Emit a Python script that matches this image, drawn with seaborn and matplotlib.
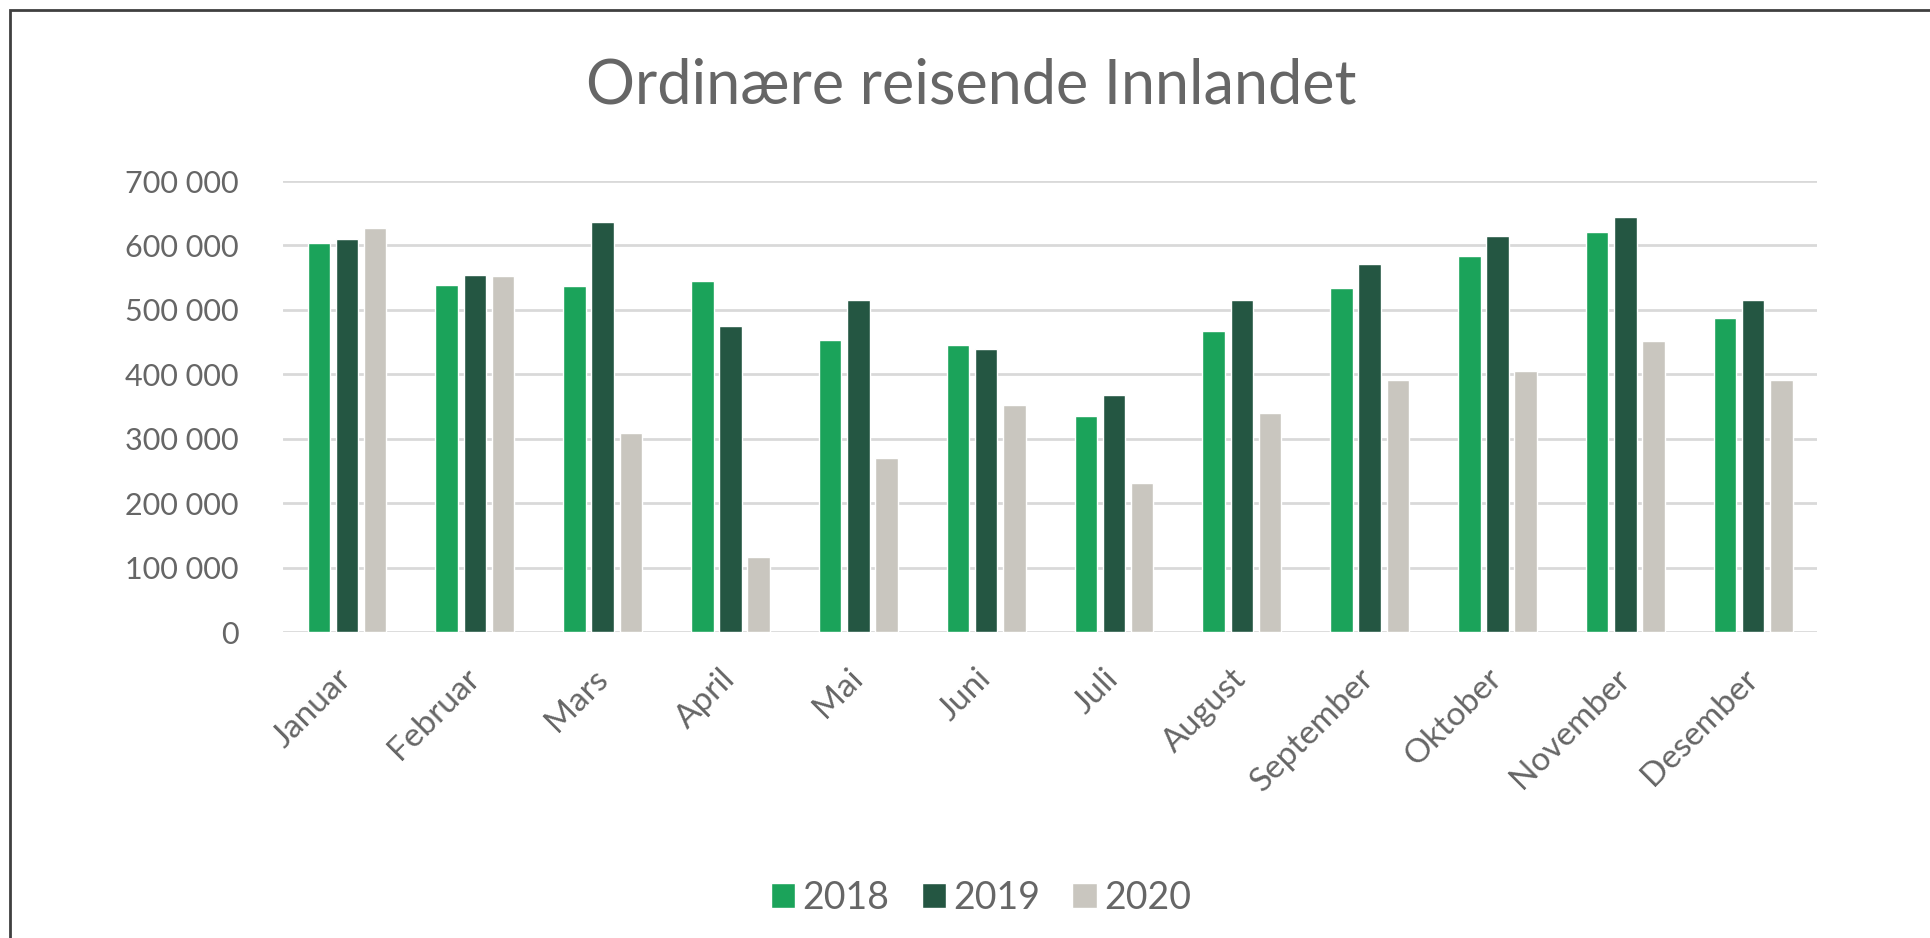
import matplotlib
matplotlib.use("Agg")
import matplotlib.pyplot as plt
import matplotlib.ticker as mticker
from matplotlib.patches import Rectangle
import pandas as pd
import seaborn as sns

months = ["Januar", "Februar", "Mars", "April", "Mai", "Juni", "Juli",
          "August", "September", "Oktober", "November", "Desember"]
years = ["2018", "2019", "2020"]
reisende_2018 = [604000, 538000, 537000, 545000, 454000, 445000, 335000,
                 468000, 534000, 583000, 621000, 487000]
reisende_2019 = [610000, 554000, 636000, 475000, 515000, 440000, 368000,
                 516000, 571000, 615000, 644000, 515000]
reisende_2020 = [627000, 552000, 309000, 116000, 270000, 352000, 231000,
                 340000, 391000, 406000, 452000, 391000]
colors = ["#1BA35A", "#245642", "#C9C6BF"]

df = pd.DataFrame({
    "Måned": months * 3,
    "År": [y for y in years for _ in months],
    "Reisende": reisende_2018 + reisende_2019 + reisende_2020,
})

sns.set_theme(style="white")
plt.rcParams["font.family"] = ["Lato", "DejaVu Sans"]
text_color = "#666666"

fig = plt.figure(figsize=(19.31, 9.38), dpi=100)
ax = fig.add_axes([0.1466, 0.326, 0.7944, 0.481])

sns.barplot(data=df, x="Måned", y="Reisende", hue="År", order=months,
            hue_order=years, palette=colors, width=0.66, gap=0.2,
            saturation=1, ax=ax)

ax.set_ylim(0, 700000)
ax.set_xlim(-0.5, 11.5)
ax.yaxis.set_major_locator(mticker.MultipleLocator(100000))
ax.yaxis.set_major_formatter(
    mticker.FuncFormatter(lambda v, _: f"{int(v):,}".replace(",", " ")))
ax.grid(axis="y", color="#D9D9D9", linewidth=2)
ax.set_axisbelow(True)
for s in ax.spines.values():
    s.set_visible(False)
ax.set_xlabel("")
ax.set_ylabel("")
ax.tick_params(axis="y", length=0, pad=32, labelsize=22, labelcolor=text_color)
ax.tick_params(axis="x", length=0, pad=30, labelsize=24, labelcolor=text_color)
plt.setp(ax.get_xticklabels(), rotation=45, ha="right", va="center",
         rotation_mode="anchor")

fig.text(0.503, 0.908, "Ordinære reisende Innlandet", fontsize=44,
         color=text_color, ha="center", va="center")

handles, labels = ax.get_legend_handles_labels()
ax.get_legend().remove()
fig.legend(handles, labels, loc="center", bbox_to_anchor=(0.508, 0.043),
           ncol=3, frameon=False, fontsize=27, labelcolor=text_color,
           handlelength=0.65, handleheight=0.65, handletextpad=0.2,
           columnspacing=0.85)

# chart frame, only top and left edge inside the picture
fig.add_artist(Rectangle((10 / 1931, -0.1), 1.2, 1.1 - 10 / 938,
                         transform=fig.transFigure, fill=False,
                         edgecolor="#404040", linewidth=2, clip_on=False))

fig.savefig("out.png", dpi=100, facecolor="white")
